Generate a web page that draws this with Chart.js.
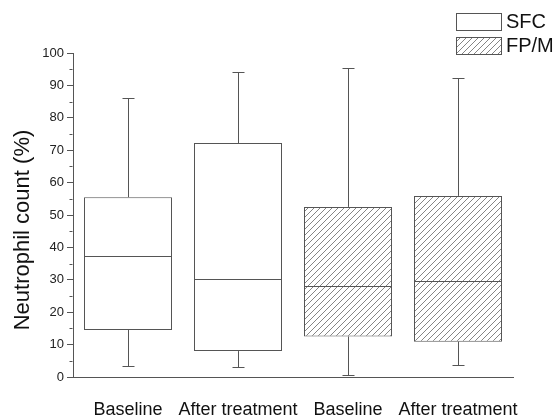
<!DOCTYPE html>
<html>
<head>
<meta charset="utf-8">
<script src="https://cdn.jsdelivr.net/npm/chart.js@4"></script>
<style>
  html, body { margin: 0; padding: 0; background: #fff; }
  #wrap { width: 558px; height: 419px; position: relative; }
</style>
</head>
<body>
<div id="wrap"><canvas id="chart"></canvas></div>
<script>
// Groups on the x axis
const categories = ['Baseline', 'After treatment', 'Baseline', 'After treatment'];
// Which series each box belongs to
const seriesOf = ['SFC', 'SFC', 'FP/M', 'FP/M'];
const seriesNames = ['SFC', 'FP/M'];
const yTitle = 'Neutrophil count (%)';

// Box plot statistics (%)
const whiskerLow = [3.5, 3, 0.5, 3.7];
const q1 = [14.5, 8, 12.5, 10.9];
const median = [37.5, 30.3, 28, 29.7];
const q3 = [55.5, 72.2, 52.5, 55.9];
const whiskerHigh = [86, 94, 95.5, 92.3];

// Y axis ticks
const yTicks = [0, 10, 20, 30, 40, 50, 60, 70, 80, 90, 100];
const yMinorTicks = [5, 15, 25, 35, 45, 55, 65, 75, 85, 95];

const LINE = '#555';
const FONT = 'Liberation Sans, Arial, sans-serif';

// Diagonal hatch pattern
const makeHatch = () => {
    const c = document.createElement('canvas');
    c.width = 6;
    c.height = 6;
    const g = c.getContext('2d');
    g.fillStyle = '#fff';
    g.fillRect(0, 0, 6, 6);
    g.strokeStyle = '#777';
    g.lineWidth = 0.9;
    g.beginPath();
    g.moveTo(-1, 7); g.lineTo(7, -1);
    g.moveTo(-1, 1); g.lineTo(1, -1);
    g.moveTo(5, 7); g.lineTo(7, 5);
    g.stroke();
    return g.createPattern(c, 'repeat');
};
const hatch = makeHatch();
const fillFor = (name) => name === 'FP/M' ? hatch : '#fff';

// Whiskers, medians, minor ticks, axis title and legend
const boxExtras = {
    id: 'boxExtras',
    afterDatasetsDraw(chart) {
        const ctx = chart.ctx;
        const xs = chart.scales.x;
        const ys = chart.scales.y;
        const meta = chart.getDatasetMeta(0);
        ctx.save();
        ctx.strokeStyle = LINE;
        ctx.lineWidth = 1;
        categories.forEach((_, i) => {
            const bar = meta.data[i];
            const cx = Math.round(xs.getPixelForValue(i)) + 0.5;
            const half = bar.width / 2;
            const cap = 6;
            const yq1 = ys.getPixelForValue(q1[i]);
            const yq3 = ys.getPixelForValue(q3[i]);
            const ylo = Math.round(ys.getPixelForValue(whiskerLow[i])) + 0.5;
            const yhi = Math.round(ys.getPixelForValue(whiskerHigh[i])) + 0.5;
            const ymed = Math.round(ys.getPixelForValue(median[i])) + 0.5;
            ctx.beginPath();
            ctx.moveTo(cx, yq3); ctx.lineTo(cx, yhi);
            ctx.moveTo(cx - cap, yhi); ctx.lineTo(cx + cap, yhi);
            ctx.moveTo(cx, yq1); ctx.lineTo(cx, ylo);
            ctx.moveTo(cx - cap, ylo); ctx.lineTo(cx + cap, ylo);
            ctx.moveTo(bar.x - half, ymed); ctx.lineTo(bar.x + half, ymed);
            ctx.stroke();
        });
        ctx.restore();
    },
    afterDraw(chart) {
        const ctx = chart.ctx;
        const ys = chart.scales.y;
        const x0 = Math.round(chart.chartArea.left) - 0.5;
        ctx.save();
        ctx.strokeStyle = LINE;
        ctx.lineWidth = 1;
        ctx.beginPath();
        yMinorTicks.forEach(v => {
            const y = Math.round(ys.getPixelForValue(v)) + 0.5;
            ctx.moveTo(x0 - 3, y);
            ctx.lineTo(x0, y);
        });
        ctx.stroke();

        // Y axis title, sitting a little below the axis middle as in the original
        ctx.save();
        ctx.translate(23, 230);
        ctx.rotate(-Math.PI / 2);
        ctx.font = '22px ' + FONT;
        ctx.textAlign = 'center';
        ctx.textBaseline = 'middle';
        ctx.fillStyle = '#111';
        ctx.fillText(yTitle, 0, 0);
        ctx.restore();

        // Legend
        ctx.font = '20px ' + FONT;
        ctx.textBaseline = 'middle';
        seriesNames.forEach((name, k) => {
            const bx = 456.5;
            const by = 13.5 + k * 24;
            ctx.fillStyle = fillFor(name);
            ctx.fillRect(bx, by, 45, 17);
            ctx.strokeStyle = LINE;
            ctx.strokeRect(bx, by, 45, 17);
            ctx.fillStyle = '#111';
            ctx.fillText(name, 506, by + 9);
        });
        ctx.restore();
    }
};

new Chart(document.getElementById('chart'), {
    type: 'bar',
    data: {
        labels: categories,
        datasets: [{
            data: categories.map((_, i) => [q1[i], q3[i]]),
            backgroundColor: seriesOf.map(fillFor),
            borderColor: LINE,
            borderWidth: 1,
            borderSkipped: false,
            barPercentage: 0.8,
            categoryPercentage: 1
        }]
    },
    options: {
        responsive: true,
        maintainAspectRatio: false,
        animation: false,
        layout: { padding: { top: 53, right: 45, bottom: 0, left: 0 } },
        plugins: {
            legend: { display: false },
            tooltip: { enabled: false }
        },
        scales: {
            x: {
                afterFit: (scale) => { scale.height = 42; },
                grid: { display: false },
                border: { display: true, color: LINE, width: 1 },
                ticks: {
                    color: '#111',
                    font: { family: FONT, size: 18 },
                    padding: 14,
                    maxRotation: 0,
                    autoSkip: false
                }
            },
            y: {
                min: 0,
                max: 100,
                afterBuildTicks: (scale) => {
                    scale.ticks = yTicks.map(v => ({ value: v }));
                },
                afterFit: (scale) => { scale.width = 73; },
                grid: {
                    drawOnChartArea: false,
                    drawTicks: true,
                    tickLength: 6,
                    color: LINE
                },
                border: { display: true, color: LINE, width: 1 },
                ticks: {
                    color: '#222',
                    font: { family: FONT, size: 13 },
                    padding: 3
                },
                title: { display: false }
            }
        }
    },
    plugins: [boxExtras]
});
</script>
</body>
</html>
